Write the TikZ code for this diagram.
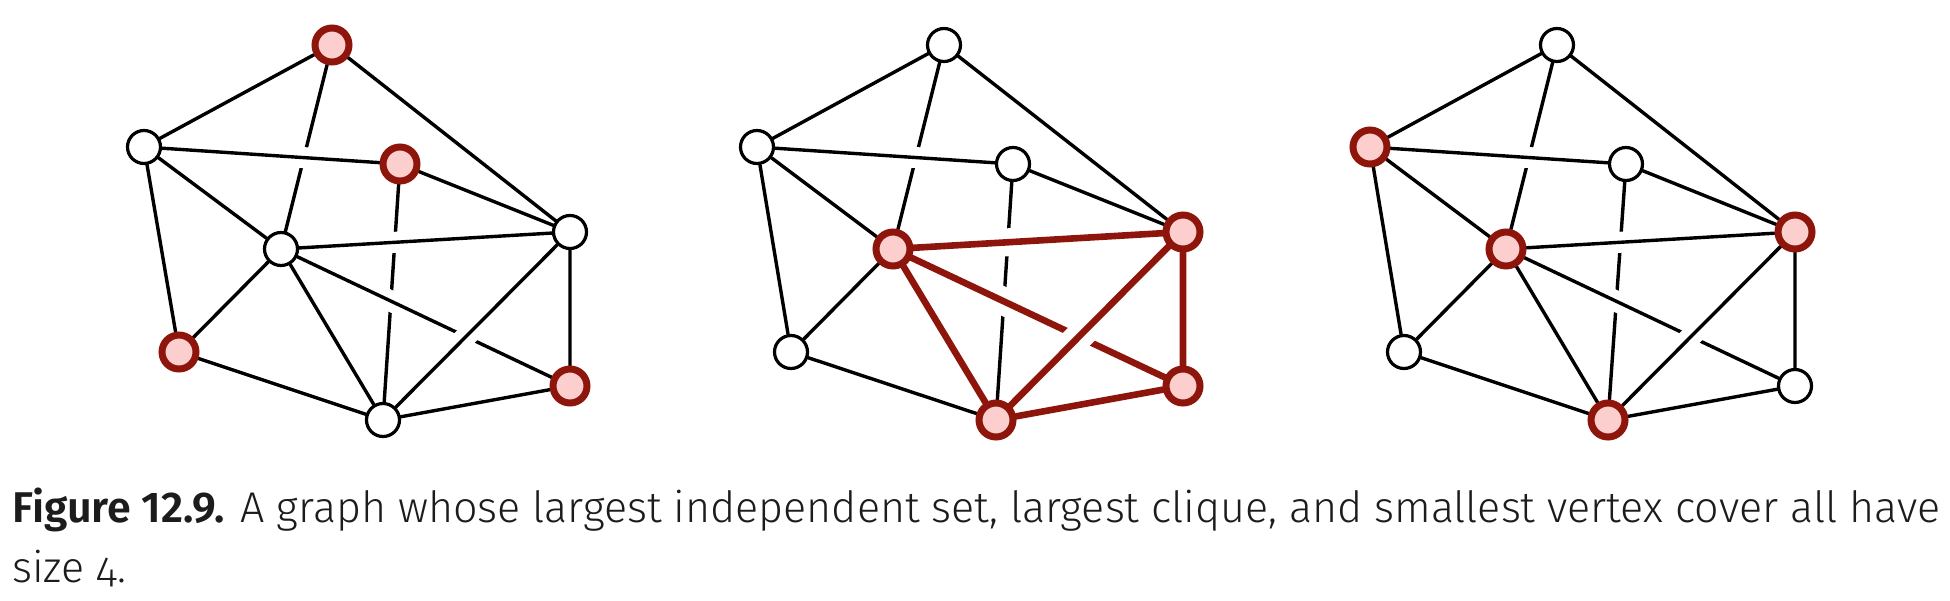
\documentclass[tikz,border=0pt]{standalone}
\usepackage{fontspec}
\setmainfont{Fira Sans}[UprightFont=* Light, BoldFont=* SemiBold]
\usetikzlibrary{backgrounds}
\definecolor{cred}{RGB}{142,21,12}
\definecolor{cpink}{RGB}{252,206,206}
\definecolor{ctext}{RGB}{28,28,28}
\tikzset{
  wnode/.style={circle, draw=black, fill=white, line width=1.6pt, minimum size=16.5pt, inner sep=0pt},
  rnode/.style={circle, draw=cred, fill=cpink, line width=3.5pt, minimum size=17pt, inner sep=0pt},
  edge/.style={draw=black, line width=1.7pt, line cap=round},
  cedge/.style={draw=cred, line width=3.3pt, line cap=round},
  halo/.style={draw=white, line width=10.5pt, shorten <=10pt, shorten >=10pt},
  chalo/.style={draw=white, line width=14pt, shorten <=10pt, shorten >=10pt},
  captext/.style={anchor=base west, inner sep=0pt, text=ctext, font=\fontsize{21.5pt}{30pt}\selectfont}
}
\begin{document}
\begin{tikzpicture}[x=0.5pt, y=-0.5pt]
\useasboundingbox (0,0) rectangle (1950,600);
% ---------- graph 1: independent set ----------
\node[rnode] (aT) at (332,45) {};
\node[wnode] (aL) at (144,147) {};
\node[rnode] (aM) at (400,164) {};
\node[wnode] (aC) at (281,249) {};
\node[wnode] (aR) at (570,232) {};
\node[rnode] (aLL) at (179,352) {};
\node[wnode] (aB) at (383,420) {};
\node[rnode] (aLR) at (570,386) {};
\begin{scope}[on background layer]
\draw[edge] (aT)--(aL) (aT)--(aC) (aT)--(aR) (aL)--(aC) (aL)--(aLL) (aM)--(aR) (aM)--(aB)
  (aC)--(aLL) (aC)--(aB) (aR)--(aLR) (aLL)--(aB) (aB)--(aLR);
\draw[halo] (aC)--(aLR); \draw[edge] (aC)--(aLR);
\draw[halo] (aL)--(aM); \draw[edge] (aL)--(aM);
\draw[halo] (aC)--(aR); \draw[edge] (aC)--(aR);
\draw[halo] (aR)--(aB); \draw[edge] (aR)--(aB);
\end{scope}
% ---------- graph 2: clique ----------
\node[wnode] (bT) at (944,45) {};
\node[wnode] (bL) at (757,147) {};
\node[wnode] (bM) at (1013,164) {};
\node[rnode] (bC) at (893,249) {};
\node[rnode] (bR) at (1183,232) {};
\node[wnode] (bLL) at (791,352) {};
\node[rnode] (bB) at (996,420) {};
\node[rnode] (bLR) at (1183,386) {};
\begin{scope}[on background layer]
\draw[edge] (bT)--(bL) (bT)--(bC) (bT)--(bR) (bL)--(bC) (bL)--(bLL) (bM)--(bR) (bM)--(bB)
  (bC)--(bLL) (bLL)--(bB);
\draw[cedge] (bC)--(bB) (bR)--(bLR) (bB)--(bLR);
\draw[chalo] (bC)--(bLR); \draw[cedge] (bC)--(bLR);
\draw[halo] (bL)--(bM); \draw[edge] (bL)--(bM);
\draw[chalo] (bC)--(bR); \draw[cedge] (bC)--(bR);
\draw[chalo] (bR)--(bB); \draw[cedge] (bR)--(bB);
\end{scope}
% ---------- graph 3: vertex cover ----------
\node[wnode] (cT) at (1557,45) {};
\node[rnode] (cL) at (1370,147) {};
\node[wnode] (cM) at (1626,164) {};
\node[rnode] (cC) at (1506,249) {};
\node[rnode] (cR) at (1795,232) {};
\node[wnode] (cLL) at (1404,352) {};
\node[rnode] (cB) at (1608,420) {};
\node[wnode] (cLR) at (1795,386) {};
\begin{scope}[on background layer]
\draw[edge] (cT)--(cL) (cT)--(cC) (cT)--(cR) (cL)--(cC) (cL)--(cLL) (cM)--(cR) (cM)--(cB)
  (cC)--(cLL) (cC)--(cB) (cR)--(cLR) (cLL)--(cB) (cB)--(cLR);
\draw[halo] (cC)--(cLR); \draw[edge] (cC)--(cLR);
\draw[halo] (cL)--(cM); \draw[edge] (cL)--(cM);
\draw[halo] (cC)--(cR); \draw[edge] (cC)--(cR);
\draw[halo] (cR)--(cB); \draw[edge] (cR)--(cB);
\end{scope}
% ---------- caption ----------
\node[captext] (cap1) at (12,522) {\textbf{Figure 12.9.} A graph whose largest independent set, largest clique, and smallest vertex cover all have};
\node[captext] (cap2) at (12,582) {size {\addfontfeatures{Numbers=OldStyle}4}.};
\end{tikzpicture}
\end{document}
